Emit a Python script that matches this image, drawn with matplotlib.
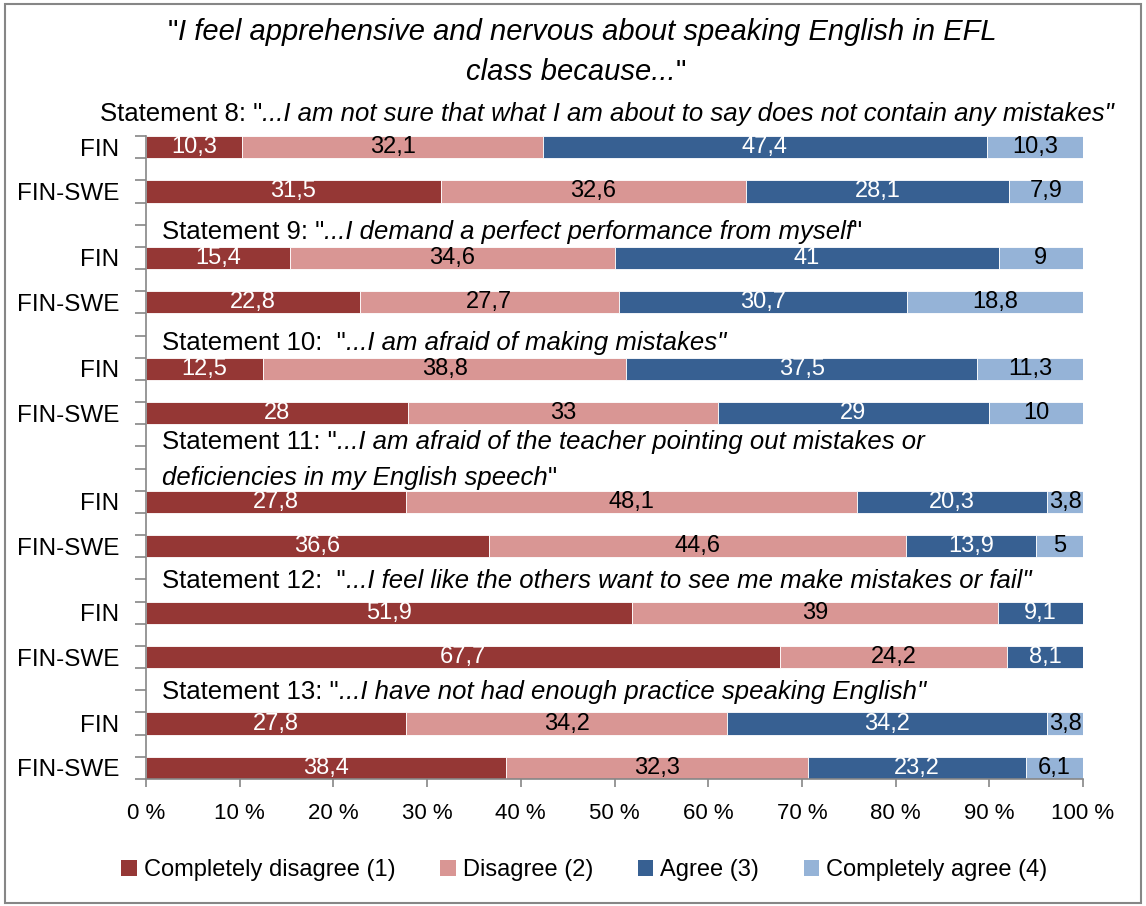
import matplotlib
matplotlib.use('Agg')
import matplotlib.pyplot as plt
from matplotlib.patches import Rectangle, Patch
import numpy as np

plt.rcParams['font.family'] = ['Liberation Sans', 'DejaVu Sans']

groups = ['FIN', 'FIN-SWE'] * 6
answers = ['Completely disagree (1)', 'Disagree (2)', 'Agree (3)', 'Completely agree (4)']
colors = ['#953735', '#d99694', '#376092', '#95b3d7']
label_colors = ['white', 'black', 'white', 'black']

# percentages per row (statement 8..13, FIN then FIN-SWE)
completely_disagree = [10.3, 31.5, 15.4, 22.8, 12.5, 28, 27.8, 36.6, 51.9, 67.7, 27.8, 38.4]
disagree = [32.1, 32.6, 34.6, 27.7, 38.8, 33, 48.1, 44.6, 39, 24.2, 34.2, 32.3]
agree = [47.4, 28.1, 41, 30.7, 37.5, 29, 20.3, 13.9, 9.1, 8.1, 34.2, 23.2]
completely_agree = [10.3, 7.9, 9, 18.8, 11.3, 10, 3.8, 5, 0, 0, 3.8, 6.1]

# row slots on the category axis (blank slots hold the statement texts)
bar_slots = [0, 2, 5, 7, 10, 12, 16, 18, 21, 23, 26, 28]
n_slots = 29

W, H = 1146, 906
fig = plt.figure(figsize=(W / 100, H / 100), dpi=100)
ax = fig.add_axes([146 / W, 1 - 779 / H, (1083 - 146) / W, (779 - 136) / H])

series = np.array([completely_disagree, disagree, agree, completely_agree])
shares = series / series.sum(axis=0) * 100
ypos = np.array(bar_slots) + 0.5
left = np.zeros(len(groups))
for i in range(4):
    ax.barh(ypos, shares[i], left=left, height=1.0, color=colors[i],
            edgecolor='white', linewidth=0.6, label=answers[i])
    for y, l, w, v in zip(ypos, left, shares[i], series[i]):
        if v > 0:
            ax.text(l + w / 2, y, f'{v:g}'.replace('.', ','), ha='center', va='center',
                    fontsize=17, color=label_colors[i])
    left += shares[i]

ax.set_xlim(0, 100)
ax.set_ylim(n_slots, 0)
ax.set_xticks(np.arange(0, 101, 10))
ax.set_xticklabels([f'{v} %' for v in range(0, 101, 10)], fontsize=16)
ax.set_yticks(ypos)
ax.set_yticklabels(groups, fontsize=17.5)
ax.set_yticks(np.arange(0, n_slots + 1), minor=True)
ax.tick_params(axis='y', which='major', length=0, pad=19)
ax.tick_params(axis='y', which='minor', length=8, color='#868686', width=1.2)
ax.tick_params(axis='x', length=6, color='#868686', width=1.2, pad=11)
for s in ['top', 'right']:
    ax.spines[s].set_visible(False)
for s in ['left', 'bottom']:
    ax.spines[s].set_color('#868686')
    ax.spines[s].set_linewidth(1.2)

renderer = fig.canvas.get_renderer()


def rich_line(x, y, parts, size, transform, center=False):
    # lay out regular/italic pieces one after another on a shared baseline
    arts = [fig.text(x, y, s, fontsize=size, fontstyle=st, va='baseline',
                     ha='left', transform=transform) for s, st in parts]
    widths = [a.get_window_extent(renderer).width for a in arts]
    px, py = transform.transform((x, y))
    if center:
        px -= sum(widths) / 2
    inv = transform.inverted()
    for a, w in zip(arts, widths):
        a.set_position(inv.transform((px, py)))
        px += w


R, I = 'normal', 'italic'
rich_line(0.508, 1 - 40 / H, [('"', R), ('I feel apprehensive and nervous about speaking English in EFL', I)],
          21, fig.transFigure, center=True)
rich_line(0.503, 1 - 80 / H, [('class because...', I), ('"', R)], 21, fig.transFigure, center=True)

statements = [
    (-4.9, -0.68, [('Statement 8: "', R), ('...I am not sure that what I am about to say does not contain any mistakes"', I)]),
    (1.7, 4.64, [('Statement 9: "', R), ('...I demand a perfect performance from myself', I), ('"', R)]),
    (1.7, 9.64, [('Statement 10:  "', R), ('...I am afraid of making mistakes"', I)]),
    (1.7, 14.1, [('Statement 11: "', R), ('...I am afraid of the teacher pointing out mistakes or', I)]),
    (1.7, 15.72, [('deficiencies in my English speech', I), ('"', R)]),
    (1.7, 20.4, [('Statement 12:  "', R), ('...I feel like the others want to see me make mistakes or fail"', I)]),
    (1.7, 25.38, [('Statement 13: "', R), ('...I have not had enough practice speaking English"', I)]),
]
for x, y, parts in statements:
    rich_line(x, y, parts, 18.5, ax.transData)

handles = [Patch(facecolor=c) for c in colors]
fig.legend(handles, answers, loc='center', bbox_to_anchor=(0.51, 1 - 870 / H), ncol=4,
           frameon=False, fontsize=17, handlelength=0.65, handleheight=0.65,
           handletextpad=0.3, columnspacing=1.9)

fig.patches.append(Rectangle((5 / W, 3 / H), 1136 / W, 899 / H, transform=fig.transFigure,
                             fill=False, edgecolor='#868686', linewidth=1.5))

fig.savefig('out.png', dpi=100)
